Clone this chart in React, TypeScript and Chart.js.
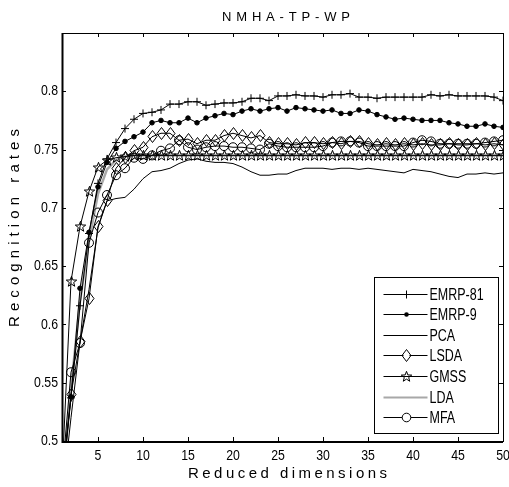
import React, { useEffect, useRef } from 'react';
import { Chart, registerables } from 'chart.js';

Chart.register(...registerables);

const TITLE = 'NMHA-TP-WP';
const X_LABEL = 'Reduced dimensions';
const Y_LABEL = 'Recognition rates';

const dims = [1, 2, 3, 4, 5, 6, 7, 8, 9, 10, 11, 12, 13, 14, 15, 16, 17, 18, 19, 20, 21, 22, 23, 24, 25, 26, 27, 28, 29, 30, 31, 32, 33, 34, 35, 36, 37, 38, 39, 40, 41, 42, 43, 44, 45, 46, 47, 48, 49, 50];
const xTicks = [5, 10, 15, 20, 25, 30, 35, 40, 45, 50];
const yTicks = [0.5, 0.55, 0.6, 0.65, 0.7, 0.75, 0.8];

const emrp81 = [0.47, 0.537, 0.616, 0.678, 0.721, 0.742, 0.756, 0.768, 0.776, 0.781, 0.782, 0.784, 0.789, 0.789, 0.791, 0.791, 0.788, 0.789, 0.790, 0.790, 0.791, 0.794, 0.794, 0.792, 0.796, 0.796, 0.797, 0.796, 0.796, 0.795, 0.797, 0.797, 0.798, 0.795, 0.795, 0.794, 0.795, 0.795, 0.795, 0.795, 0.795, 0.797, 0.796, 0.797, 0.796, 0.796, 0.796, 0.796, 0.795, 0.792];
const emrp9 = [0.46, 0.538, 0.631, 0.679, 0.718, 0.739, 0.751, 0.757, 0.761, 0.765, 0.773, 0.775, 0.773, 0.773, 0.777, 0.773, 0.777, 0.779, 0.781, 0.780, 0.783, 0.785, 0.783, 0.785, 0.786, 0.783, 0.786, 0.785, 0.784, 0.783, 0.784, 0.781, 0.781, 0.784, 0.783, 0.780, 0.778, 0.776, 0.777, 0.776, 0.775, 0.775, 0.775, 0.773, 0.772, 0.770, 0.770, 0.772, 0.770, 0.769];
const pca = [0.45, 0.52, 0.585, 0.63, 0.683, 0.706, 0.708, 0.709, 0.716, 0.725, 0.731, 0.732, 0.734, 0.738, 0.741, 0.742, 0.740, 0.739, 0.739, 0.738, 0.735, 0.731, 0.728, 0.728, 0.729, 0.729, 0.732, 0.734, 0.734, 0.734, 0.733, 0.734, 0.734, 0.733, 0.734, 0.733, 0.732, 0.731, 0.730, 0.733, 0.732, 0.731, 0.729, 0.727, 0.726, 0.729, 0.729, 0.730, 0.729, 0.730];
const lsda = [0.46, 0.54, 0.585, 0.622, 0.684, 0.706, 0.734, 0.743, 0.749, 0.752, 0.761, 0.764, 0.764, 0.758, 0.759, 0.755, 0.758, 0.758, 0.762, 0.764, 0.762, 0.760, 0.762, 0.756, 0.755, 0.755, 0.754, 0.756, 0.756, 0.755, 0.756, 0.755, 0.757, 0.757, 0.755, 0.754, 0.755, 0.754, 0.755, 0.754, 0.755, 0.754, 0.754, 0.755, 0.754, 0.754, 0.755, 0.754, 0.755, 0.754];
const gmss = [0.47, 0.637, 0.684, 0.714, 0.735, 0.741, 0.743, 0.744, 0.745, 0.745, 0.745, 0.745, 0.745, 0.745, 0.745, 0.745, 0.745, 0.745, 0.745, 0.745, 0.745, 0.745, 0.745, 0.745, 0.745, 0.745, 0.745, 0.745, 0.745, 0.745, 0.745, 0.745, 0.745, 0.745, 0.745, 0.745, 0.745, 0.745, 0.745, 0.745, 0.745, 0.745, 0.745, 0.745, 0.745, 0.745, 0.745, 0.745, 0.745, 0.745];
const lda = [0.46, 0.545, 0.62, 0.672, 0.712, 0.733, 0.741, 0.744, 0.745, 0.745, 0.745, 0.745, 0.745, 0.745, 0.745, 0.745, 0.745, 0.745, 0.745, 0.745, 0.745, 0.745, 0.745, 0.745, 0.745, 0.745, 0.745, 0.745, 0.745, 0.745, 0.745, 0.745, 0.745, 0.745, 0.745, 0.745, 0.745, 0.745, 0.745, 0.745, 0.745, 0.745, 0.745, 0.745, 0.745, 0.745, 0.745, 0.745, 0.745, 0.745];
const mfa = [0.47, 0.559, 0.584, 0.670, 0.696, 0.711, 0.728, 0.734, 0.743, 0.742, 0.745, 0.749, 0.751, 0.758, 0.752, 0.750, 0.752, 0.753, 0.753, 0.752, 0.752, 0.751, 0.750, 0.755, 0.753, 0.752, 0.752, 0.752, 0.752, 0.753, 0.756, 0.757, 0.757, 0.756, 0.753, 0.753, 0.753, 0.753, 0.753, 0.756, 0.758, 0.757, 0.755, 0.755, 0.755, 0.755, 0.755, 0.756, 0.757, 0.758];

const SANS = '"Liberation Sans", Arial, sans-serif';

function makeStar(): HTMLCanvasElement {
  const c = document.createElement('canvas');
  c.width = 13; c.height = 13;
  const g = c.getContext('2d')!;
  g.strokeStyle = '#000'; g.lineWidth = 1;
  g.beginPath();
  for (let i = 0; i < 10; i++) {
    const r = i % 2 === 0 ? 5.5 : 2.3;
    const a = -Math.PI / 2 + (i * Math.PI) / 5;
    const x = 6.5 + r * Math.cos(a), y = 6.8 + r * Math.sin(a);
    if (i === 0) g.moveTo(x, y); else g.lineTo(x, y);
  }
  g.closePath(); g.stroke();
  return c;
}
function makeDiamond(): HTMLCanvasElement {
  const c = document.createElement('canvas');
  c.width = 11; c.height = 13;
  const g = c.getContext('2d')!;
  g.strokeStyle = '#000'; g.lineWidth = 1;
  g.beginPath();
  g.moveTo(5.5, 0.5); g.lineTo(10, 6.5); g.lineTo(5.5, 12.5); g.lineTo(1, 6.5); g.closePath();
  g.stroke();
  return c;
}

function spacedText(ctx: CanvasRenderingContext2D, text: string, cx: number, cy: number, target: number) {
  (ctx as any).letterSpacing = '0px';
  const w = ctx.measureText(text).width;
  const sp = (target - w) / (text.length - 1);
  (ctx as any).letterSpacing = sp + 'px';
  ctx.textAlign = 'left';
  ctx.textBaseline = 'middle';
  ctx.fillText(text, cx - target / 2, cy);
  (ctx as any).letterSpacing = '0px';
}

function narrowText(ctx: CanvasRenderingContext2D, text: string, x: number, y: number, align: CanvasTextAlign, sx: number) {
  ctx.save();
  ctx.translate(x, y);
  ctx.scale(sx, 1);
  ctx.textAlign = align;
  ctx.textBaseline = 'middle';
  ctx.fillText(text, 0, 0);
  ctx.restore();
}

export default function App() {
  const ref = useRef<HTMLCanvasElement>(null);
  useEffect(() => {
    document.body.style.margin = '0';
    const star = makeStar();
    const diamond = makeDiamond();
    const mk = (arr: number[]) => dims.map((d, i) => ({ x: d, y: arr[i] }));
    const base = { tension: 0, borderColor: '#000', borderWidth: 1, pointBorderColor: '#000', pointBorderWidth: 1, pointBackgroundColor: 'rgba(0,0,0,0)', clip: 0 };
    const datasets: any[] = [
      { ...base, label: 'EMRP-81', data: mk(emrp81), pointStyle: 'cross', pointRadius: 4 },
      { ...base, label: 'EMRP-9', data: mk(emrp9), pointStyle: 'circle', pointRadius: 2.3, pointBackgroundColor: '#000' },
      { ...base, label: 'PCA', data: mk(pca), pointRadius: 0 },
      { ...base, label: 'LSDA', data: mk(lsda), pointStyle: diamond, pointRadius: 5 },
      { ...base, label: 'GMSS', data: mk(gmss), pointStyle: star, pointRadius: 5 },
      { ...base, label: 'LDA', data: mk(lda), pointRadius: 0, borderColor: '#a8a8a8', borderWidth: 2.5 },
      { ...base, label: 'MFA', data: mk(mfa), pointStyle: 'circle', pointRadius: 4.5 },
    ];
    datasets.forEach((d, i) => { d.order = d.label === 'LDA' ? 10 : i; });

    const crisp = {
      id: 'crisp',
      beforeDatasetsDraw(chart: any) { chart.ctx.imageSmoothingEnabled = false; },
    };

    const decor = {
      id: 'decor',
      afterDatasetsDraw(chart: any) {
        const { ctx, chartArea: a, scales } = chart;
        ctx.save();
        ctx.imageSmoothingEnabled = false;
        ctx.strokeStyle = '#000';
        ctx.lineWidth = 1;
        ctx.beginPath();
        for (const v of xTicks) {
          const px = Math.round(scales.x.getPixelForValue(v)) + 0.5;
          ctx.moveTo(px, a.bottom); ctx.lineTo(px, a.bottom - 4);
          ctx.moveTo(px, a.top); ctx.lineTo(px, a.top + 4);
        }
        for (const v of yTicks) {
          const py = Math.round(scales.y.getPixelForValue(v)) + 0.5;
          ctx.moveTo(a.left, py); ctx.lineTo(a.left + 4, py);
          ctx.moveTo(a.right, py); ctx.lineTo(a.right - 4, py);
        }
        ctx.stroke();
        ctx.strokeRect(Math.round(a.left) + 0.5, Math.round(a.top) + 0.5, Math.round(a.right - a.left), Math.round(a.bottom - a.top));
        ctx.lineWidth = 2;
        ctx.beginPath();
        ctx.moveTo(Math.round(a.left) + 0.5, a.top); ctx.lineTo(Math.round(a.left) + 0.5, a.bottom + 1);
        ctx.lineTo(a.right, a.bottom + 1);
        ctx.stroke();

        ctx.fillStyle = '#000';
        ctx.font = '15px ' + SANS;
        for (const v of xTicks) {
          narrowText(ctx, String(v), scales.x.getPixelForValue(v), a.bottom + 15, 'center', 0.82);
        }
        for (const v of yTicks) {
          narrowText(ctx, String(v), a.left - 4, scales.y.getPixelForValue(v), 'right', 0.82);
        }

        const bw = 124, bh = 156;
        const bx = Math.round(a.right - 5 - bw) + 0.5, by = Math.round(a.bottom - 8 - bh) + 0.5;
        ctx.fillStyle = '#fff';
        ctx.fillRect(bx, by, bw, bh);
        ctx.lineWidth = 1;
        ctx.strokeStyle = '#000';
        ctx.strokeRect(bx, by, bw, bh);
        ctx.font = '16px ' + SANS;
        datasets.forEach((ds, i) => {
          const y = Math.round(by + 16 + i * 20.6) + 0.5;
          const x0 = bx + 9, x1 = bx + 53, xm = Math.round((x0 + x1) / 2) + 0.5;
          ctx.strokeStyle = ds.borderColor;
          ctx.lineWidth = ds.label === 'LDA' ? 2 : 1;
          ctx.beginPath(); ctx.moveTo(x0, y); ctx.lineTo(x1, y); ctx.stroke();
          ctx.strokeStyle = '#000'; ctx.lineWidth = 1;
          if (ds.label === 'EMRP-81') {
            ctx.beginPath(); ctx.moveTo(xm, y - 4); ctx.lineTo(xm, y + 4); ctx.moveTo(xm - 4, y); ctx.lineTo(xm + 4, y); ctx.stroke();
          } else if (ds.label === 'EMRP-9') {
            ctx.fillStyle = '#000'; ctx.beginPath(); ctx.arc(xm, y, 2.3, 0, Math.PI * 2); ctx.fill();
          } else if (ds.label === 'LSDA') {
            ctx.fillStyle = '#fff'; ctx.fillRect(xm - 3, y - 4, 6, 8);
            ctx.drawImage(diamond, Math.round(xm - 5.5), Math.round(y - 6.5));
          } else if (ds.label === 'GMSS') {
            ctx.drawImage(star, Math.round(xm - 6.5), Math.round(y - 6.5));
          } else if (ds.label === 'MFA') {
            ctx.fillStyle = '#fff'; ctx.beginPath(); ctx.arc(xm, y, 4.3, 0, Math.PI * 2); ctx.fill(); ctx.stroke();
          }
          ctx.fillStyle = '#000';
          narrowText(ctx, ds.label, bx + 55, y + 1, 'left', 0.78);
        });

        ctx.fillStyle = '#000';
        ctx.font = '13px ' + SANS;
        spacedText(ctx, TITLE, 286, 17, 128);
        ctx.font = '15px ' + SANS;
        spacedText(ctx, X_LABEL, 287.5, 474, 199);
        ctx.save();
        ctx.translate(15, 228);
        ctx.rotate(-Math.PI / 2);
        spacedText(ctx, Y_LABEL, 0, 0, 198);
        ctx.restore();
        ctx.restore();
      },
    };

    const chart = new Chart(ref.current!, {
      type: 'line',
      data: { datasets },
      options: {
        animation: false,
        responsive: false,
        events: [],
        layout: { padding: { left: 0, top: 33, right: 6, bottom: 0 } },
        plugins: { legend: { display: false }, title: { display: false }, tooltip: { enabled: false } },
        scales: {
          x: {
            type: 'linear', min: 1, max: 50,
            grid: { display: false }, border: { display: false },
            afterBuildTicks: (s: any) => { s.ticks = xTicks.map((v) => ({ value: v })); },
            afterFit: (s: any) => { s.height = 46; s.paddingLeft = 0; s.paddingRight = 0; },
            ticks: { display: false },
          },
          y: {
            type: 'linear', min: 0.5, max: 0.85,
            grid: { display: false }, border: { display: false },
            afterBuildTicks: (s: any) => { s.ticks = yTicks.map((v) => ({ value: v })); },
            afterFit: (s: any) => { s.width = 62; s.paddingTop = 0; s.paddingBottom = 0; },
            ticks: { display: false },
          },
        },
      } as any,
      plugins: [crisp, decor],
    });
    return () => chart.destroy();
  }, []);
  return <canvas ref={ref} width={509} height={487} style={{ display: 'block' }} />;
}
